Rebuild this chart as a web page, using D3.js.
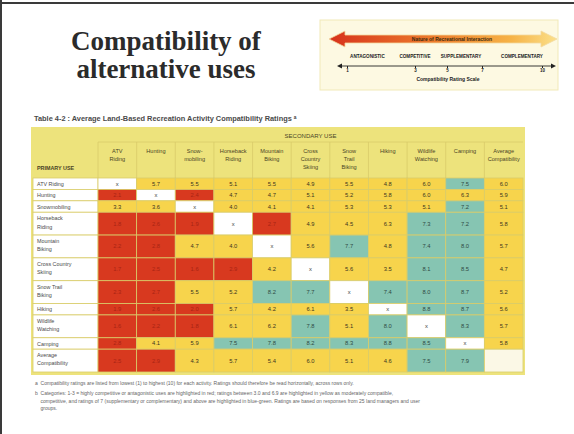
<!DOCTYPE html>
<html>
<head>
<meta charset="utf-8">
<script src="https://cdn.jsdelivr.net/npm/d3@7"></script>
<style>
  body { margin: 0; background: #fff; }
  svg { display: block; }
</style>
</head>
<body>
<div id="chart"></div>
<script>
// ---- data ----
const columnLabels = [
  ["ATV", "Riding"], ["Hunting"], ["Snow-", "mobiling"], ["Horseback", "Riding"],
  ["Mountain", "Biking"], ["Cross", "Country", "Skiing"], ["Snow", "Trail", "Biking"],
  ["Hiking"], ["Wildlife", "Watching"], ["Camping"], ["Average", "Compatibility"]
];
const rowLabels = [
  ["ATV Riding"], ["Hunting"], ["Snowmobiling"], ["Horseback", "Riding"],
  ["Mountain", "Biking"], ["Cross Country", "Skiing"], ["Snow Trail", "Biking"],
  ["Hiking"], ["Wildlife", "Watching"], ["Camping"], ["Average", "Compatibility"]
];
// null = activity rated against itself (shown as "x"), or the empty corner cell
const ratings = [
  [null, 5.7, 5.5, 5.1, 5.5, 4.9, 5.5, 4.8, 6.0, 7.5, 6.0],
  [2.1, null, 2.4, 4.7, 4.7, 5.1, 5.2, 5.8, 6.0, 6.3, 5.9],
  [3.3, 3.6, null, 4.0, 4.1, 4.1, 5.3, 5.3, 5.1, 7.2, 5.1],
  [1.8, 2.6, 1.9, null, 2.7, 4.9, 4.5, 6.3, 7.3, 7.2, 5.8],
  [2.2, 2.8, 4.7, 4.0, null, 5.6, 7.7, 4.8, 7.4, 8.0, 5.7],
  [1.7, 2.5, 1.6, 2.9, 4.2, null, 5.6, 3.5, 8.1, 8.5, 4.7],
  [2.3, 2.7, 5.5, 5.2, 8.2, 7.7, null, 7.4, 8.0, 8.7, 5.2],
  [1.9, 2.6, 2.0, 5.7, 4.2, 6.1, 3.5, null, 8.8, 8.7, 5.6],
  [1.6, 2.2, 1.8, 6.1, 6.2, 7.8, 5.1, 8.0, null, 8.3, 5.7],
  [2.8, 4.1, 5.9, 7.5, 7.8, 8.2, 8.3, 8.8, 8.5, null, 5.8],
  [2.5, 2.9, 4.3, 5.7, 5.4, 6.0, 5.1, 4.6, 7.5, 7.9, null]
];
const ratingBreaks = [3, 7];
const scaleTicks = [1, 3, 5, 7, 10];
const interactionTypes = ["ANTAGONISTIC", "COMPETITIVE", "SUPPLEMENTARY", "COMPLEMENTARY"];
const interactionAt = [1.6, 3, 5.8, 9];
const footnotes = [
  "a  Compatibility ratings are listed from lowest (1) to highest (10) for each activity. Ratings should therefore be read horizontally, across rows only.",
  "b  Categories: 1-3 = highly competitive or antagonistic uses are highlighted in red; ratings between 3.0 and 6.9 are highlighted in yellow as moderately compatible,",
  "    competitive, and ratings of 7 (supplementary or complementary) and above are highlighted in blue-green. Ratings are based on responses from 25 land managers and user",
  "    groups."
];

// ---- drawing ----
const W = 574, H = 434;
const svg = d3.select("#chart").append("svg")
    .attr("width", W).attr("height", H)
    .style("font-family", "'Liberation Sans Narrow', 'Liberation Sans', sans-serif");

svg.append("rect").attr("width", W).attr("height", H).attr("fill", "#fff");
// photographed slide edge
svg.append("rect").attr("x", 0).attr("y", 2).attr("width", W).attr("height", 2).attr("fill", "#3a3a3a");
svg.append("rect").attr("x", 0).attr("y", 0).attr("width", 2).attr("height", H).attr("fill", "#3a3a3a");

// title
svg.append("text")
    .attr("x", 166).attr("y", 0)
    .attr("text-anchor", "middle")
    .style("font-family", "'Liberation Serif', serif")
    .style("font-weight", "bold")
    .style("font-size", "27px")
    .attr("fill", "#2b2b2b")
  .selectAll("tspan")
  .data(["Compatibility of", "alternative uses"])
  .join("tspan")
    .attr("x", 166)
    .attr("y", (d, i) => 50 + i * 28)
    .text(d => d);

// ---- legend panel ----
const lg = svg.append("g");
lg.append("rect")
    .attr("x", 320).attr("y", 20).attr("width", 238).attr("height", 70)
    .attr("fill", "#fdf9e2").attr("stroke", "#f1e9b8");

const lx = d3.scaleLinear().domain(scaleTicks).range([347, 415, 447, 482, 542]);

const grad = svg.append("defs").append("linearGradient").attr("id", "arrowGrad");
grad.append("stop").attr("offset", "0%").attr("stop-color", "#d7321c");
grad.append("stop").attr("offset", "45%").attr("stop-color", "#ec7a2c");
grad.append("stop").attr("offset", "80%").attr("stop-color", "#f6b347");
grad.append("stop").attr("offset", "100%").attr("stop-color", "#fbe08a");

const ax0 = 329, ax1 = 557, ay = 39, head = 16;
lg.append("path")
    .attr("d", `M${ax0},${ay} L${ax0 + head},${ay - 8} L${ax0 + head},${ay - 4} L${ax1 - head},${ay - 4}
      L${ax1 - head},${ay - 8} L${ax1},${ay} L${ax1 - head},${ay + 8} L${ax1 - head},${ay + 4}
      L${ax0 + head},${ay + 4} L${ax0 + head},${ay + 8} Z`)
    .attr("fill", "url(#arrowGrad)")
    .attr("stroke", "#f3d9a0").attr("stroke-width", 0.8);
lg.append("text")
    .attr("x", 452).attr("y", ay + 2)
    .attr("text-anchor", "middle")
    .style("font-size", "5px").style("font-weight", "bold")
    .attr("fill", "#3a2a10")
    .text("Nature of Recreational Interaction");

lg.selectAll(".itype")
  .data(interactionTypes)
  .join("text")
    .attr("class", "itype")
    .attr("x", (d, i) => lx(interactionAt[i]))
    .attr("y", 58)
    .attr("text-anchor", "middle")
    .style("font-size", "4.6px").style("font-weight", "bold")
    .attr("fill", "#222")
    .text(d => d);

const axisG = lg.append("g").attr("transform", "translate(0,66)")
    .call(d3.axisBottom(lx).tickValues(scaleTicks).tickSize(2).tickPadding(1).tickFormat(d3.format("d")));
axisG.select(".domain").remove();
axisG.selectAll("text").style("font-size", "4.5px").style("font-weight", "bold").attr("fill", "#222");
axisG.selectAll("line").attr("stroke", "#222");
lg.append("line").attr("x1", 339).attr("x2", 553).attr("y1", 66).attr("y2", 66)
    .attr("stroke", "#222").attr("stroke-width", 0.9);
lg.append("path").attr("d", "M337,66 L342,63.5 L342,68.5 Z").attr("fill", "#222");
lg.append("path").attr("d", "M556,66 L551,63.5 L551,68.5 Z").attr("fill", "#222");
lg.append("text")
    .attr("x", 448).attr("y", 81)
    .attr("text-anchor", "middle")
    .style("font-size", "5px").style("font-weight", "bold")
    .attr("fill", "#222")
    .text("Compatibility Rating Scale");

// ---- table ----
svg.append("text")
    .attr("x", 34).attr("y", 121)
    .style("font-size", "7.4px").style("font-weight", "bold")
    .attr("fill", "#4a4a4a")
    .text("Table 4-2 : Average Land-Based Recreation Activity Compatibility Ratings ᵃ");

const tableLeft = 33, labelRight = 98, tableRight = 523;
const tableTop = 127, bandBottom = 142, headBottom = 178, tableBottom = 372;

const x = d3.scaleBand().domain(d3.range(columnLabels.length)).range([labelRight, tableRight]);

const rowUnits = rowLabels.map(r => r.length);
const rowStart = d3.cumsum([0, ...rowUnits]);
const y = d3.scaleLinear().domain([0, d3.sum(rowUnits)]).range([headBottom, tableBottom]);

const color = d3.scaleThreshold().domain(ratingBreaks).range(["#d8391f", "#f7d44c", "#86c5b2"]);
const inkColor = d3.scaleThreshold().domain(ratingBreaks).range(["#a82414", "#3d3521", "#2f4a44"]);
const fmt = d3.format(".1f");
const grid = "#d9cc6a";

const tbl = svg.append("g");
// header background
tbl.append("rect")
    .attr("x", tableLeft - 2).attr("y", tableTop)
    .attr("width", tableRight - tableLeft + 4).attr("height", tableBottom - tableTop + 3)
    .attr("fill", "#ede37c");
tbl.append("text")
    .attr("x", x.range()[0] + (x.range()[1] - x.range()[0]) / 2).attr("y", 138)
    .attr("text-anchor", "middle")
    .style("font-size", "6px")
    .attr("fill", "#4a4426")
    .text("SECONDARY USE");
tbl.append("line")
    .attr("x1", labelRight).attr("x2", tableRight).attr("y1", bandBottom).attr("y2", bandBottom)
    .attr("stroke", grid).attr("stroke-width", 0.8);
tbl.append("text")
    .attr("x", 37).attr("y", 170)
    .style("font-size", "5.4px").style("font-weight", "bold")
    .attr("fill", "#4a4426")
    .text("PRIMARY USE");

// column headers
const colHead = tbl.selectAll(".colhead")
  .data(columnLabels)
  .join("g")
    .attr("class", "colhead");
colHead.append("line")
    .attr("x1", (d, i) => x(i)).attr("x2", (d, i) => x(i))
    .attr("y1", bandBottom).attr("y2", headBottom)
    .attr("stroke", grid).attr("stroke-width", 0.8);
colHead.append("text")
    .attr("text-anchor", "middle")
    .style("font-size", "5.6px")
    .attr("fill", "#4a4426")
  .selectAll("tspan")
  .data((d, i) => d.map(t => ({ t, i })))
  .join("tspan")
    .attr("x", d => x(d.i) + x.bandwidth() / 2)
    .attr("y", (d, k) => 153 + k * 8)
    .text(d => d.t);

// row labels
const rowG = tbl.selectAll(".row")
  .data(rowLabels)
  .join("g")
    .attr("class", "row");
rowG.append("rect")
    .attr("x", tableLeft).attr("width", labelRight - tableLeft)
    .attr("y", (d, i) => y(rowStart[i]))
    .attr("height", (d, i) => y(rowStart[i + 1]) - y(rowStart[i]))
    .attr("fill", "#fff").attr("stroke", grid).attr("stroke-width", 0.8);
rowG.append("text")
    .style("font-size", "5.4px")
    .attr("fill", "#4a4a4a")
  .selectAll("tspan")
  .data((d, i) => d.map(t => ({ t, i })))
  .join("tspan")
    .attr("x", 37)
    .attr("y", (d, k) => y(rowStart[d.i]) + 7.8 + k * 8.5)
    .text(d => d.t);

// cells
const cells = ratings.flatMap((row, r) => row.map((v, c) => ({ r, c, v })));
const cellG = tbl.selectAll(".cell")
  .data(cells)
  .join("g")
    .attr("class", "cell");
cellG.append("rect")
    .attr("x", d => x(d.c))
    .attr("y", d => y(rowStart[d.r]))
    .attr("width", x.bandwidth())
    .attr("height", d => y(rowStart[d.r + 1]) - y(rowStart[d.r]))
    .attr("fill", d => d.v == null ? (d.r === d.c && d.r < rowLabels.length - 1 ? "#ffffff" : "#fbf8e6") : color(d.v))
    .attr("stroke", grid).attr("stroke-width", 0.8);
cellG.append("text")
    .attr("x", d => x(d.c) + x.bandwidth() / 2)
    .attr("y", d => (y(rowStart[d.r]) + y(rowStart[d.r + 1])) / 2 + 2)
    .attr("text-anchor", "middle")
    .style("font-size", "5.8px")
    .attr("fill", d => d.v == null ? "#444" : inkColor(d.v))
    .text(d => d.v == null ? (d.r < rowLabels.length - 1 ? "x" : "") : fmt(d.v));

// footnotes
svg.append("g")
  .selectAll("text")
  .data(footnotes)
  .join("text")
    .attr("x", 35)
    .attr("y", (d, i) => 385 + (i === 0 ? 0 : 10 + (i - 1) * 7.5))
    .style("font-size", "5px")
    .attr("fill", "#666")
    .attr("xml:space", "preserve")
    .text(d => d);
</script>
</body>
</html>
